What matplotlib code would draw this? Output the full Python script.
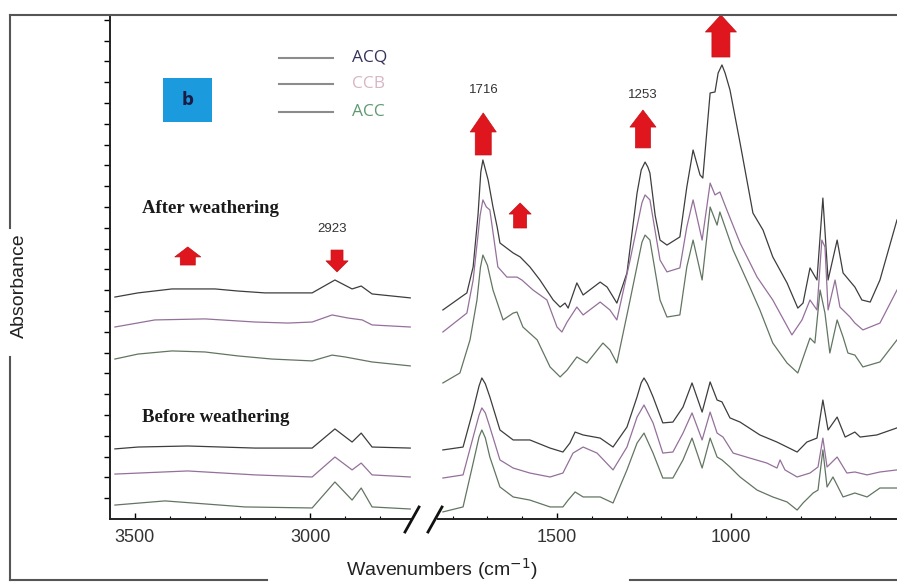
import matplotlib.pyplot as plt
from matplotlib.lines import Line2D
from matplotlib.patches import Rectangle, ArrowStyle

W, H = 897, 585

# ---- spectra: wavenumber (cm-1), absorbance (stacked, a.u.)
# 3600-2700 cm-1 region
hi_acq_after_x = [3557, 3491, 3394, 3271, 3206, 3129, 2994, 2929, 2880, 2854, 2823, 2714]
hi_acq_after_y = [10.67, 10.87, 11.06, 11.06, 10.96, 10.87, 10.87, 11.49, 11.06, 11.20, 10.82, 10.63]
hi_ccb_after_x = [3557, 3443, 3300, 3157, 3063, 2994, 2937, 2891, 2851, 2823, 2714]
hi_ccb_after_y = [9.23, 9.57, 9.62, 9.47, 9.42, 9.47, 9.81, 9.66, 9.57, 9.33, 9.23]
hi_acc_after_x = [3557, 3491, 3394, 3300, 3206, 3109, 2994, 2937, 2900, 2823, 2714]
hi_acc_after_y = [7.69, 7.93, 8.08, 8.03, 7.84, 7.69, 7.60, 7.88, 7.79, 7.55, 7.36]
hi_acq_before_x = [3557, 3491, 3349, 3157, 2994, 2929, 2880, 2854, 2823, 2714]
hi_acq_before_y = [3.37, 3.46, 3.51, 3.41, 3.41, 4.33, 3.70, 4.13, 3.46, 3.41]
hi_ccb_before_x = [3557, 3349, 3157, 2994, 2929, 2880, 2854, 2823, 2714]
hi_ccb_before_y = [2.16, 2.31, 2.12, 2.02, 2.98, 2.36, 2.69, 2.12, 2.02]
hi_acc_before_x = [3557, 3414, 3186, 2994, 2929, 2880, 2854, 2823, 2714]
hi_acc_before_y = [0.67, 0.87, 0.58, 0.53, 1.78, 0.91, 1.49, 0.58, 0.48]

# 1830-520 cm-1 region
lo_acq_after_x = [1828, 1759, 1741, 1727, 1719, 1713, 1698, 1684, 1672, 1664, 1626, 1606, 1578,
                  1549, 1511, 1491, 1477, 1468, 1443, 1425, 1376, 1356, 1328, 1299, 1270, 1258,
                  1247, 1239, 1233, 1218, 1204, 1184, 1147, 1127, 1109, 1089, 1081, 1060, 1046,
                  1037, 1026, 1017, 1003, 974, 937, 908, 880, 839, 808, 793, 773, 753, 736, 721,
                  695, 678, 644, 624, 600, 572, 523]
lo_acq_after_y = [10.05, 10.87, 12.12, 14.62, 16.68, 17.26, 16.30, 15.0, 14.04, 13.27, 12.79,
                  12.60, 12.12, 11.49, 10.53, 10.19, 10.38, 10.14, 11.35, 10.77, 11.39, 11.15,
                  10.38, 11.83, 15.67, 16.78, 17.16, 16.92, 16.63, 14.60, 13.41, 13.17, 13.56,
                  15.96, 17.74, 16.54, 16.39, 20.48, 20.53, 21.44, 21.83, 21.44, 20.63, 18.08,
                  14.71, 13.89, 12.60, 11.35, 10.14, 10.38, 12.07, 11.49, 15.43, 11.49, 13.41,
                  11.83, 11.15, 10.53, 10.43, 11.49, 14.38]
lo_ccb_after_x = [1828, 1759, 1741, 1727, 1721, 1713, 1703, 1693, 1670, 1644, 1615, 1601, 1569,
                  1529, 1500, 1486, 1471, 1443, 1425, 1376, 1348, 1328, 1290, 1256, 1247, 1233,
                  1204, 1184, 1147, 1127, 1109, 1083, 1060, 1046, 1032, 1012, 974, 925, 880, 825,
                  796, 773, 753, 739, 730, 721, 701, 687, 658, 644, 621, 572, 523]
lo_ccb_after_y = [8.99, 9.90, 11.49, 13.65, 14.60, 15.34, 15.00, 14.86, 12.12, 11.63, 11.63,
                  11.49, 11.01, 10.53, 9.23, 8.99, 9.47, 10.19, 9.81, 10.43, 10.05, 9.57, 12.45,
                  15.20, 15.58, 15.34, 12.45, 11.88, 12.07, 14.04, 15.34, 13.41, 16.15, 15.58,
                  15.72, 14.86, 13.27, 11.63, 10.53, 8.85, 9.57, 10.53, 10.05, 13.41, 13.08,
                  10.05, 11.49, 10.19, 9.71, 9.42, 9.09, 9.42, 11.01]
lo_acc_after_x = [1828, 1779, 1750, 1730, 1720, 1713, 1700, 1684, 1655, 1626, 1615, 1598, 1557,
                  1520, 1491, 1471, 1443, 1414, 1368, 1348, 1328, 1290, 1256, 1247, 1233, 1204,
                  1184, 1147, 1127, 1109, 1083, 1060, 1040, 1032, 994, 946, 917, 880, 839, 808,
                  773, 759, 744, 730, 716, 695, 678, 664, 644, 621, 572, 523]
lo_acc_after_y = [6.54, 7.02, 8.61, 10.53, 12.10, 12.69, 12.20, 11.01, 9.57, 9.90, 9.95, 9.23,
                  8.61, 7.31, 6.83, 7.16, 7.79, 7.50, 8.46, 8.13, 7.50, 10.53, 13.30, 13.65,
                  13.41, 10.53, 9.71, 9.81, 12.12, 13.41, 11.49, 15.0, 14.13, 14.76, 12.93,
                  11.15, 10.05, 8.46, 7.50, 7.02, 8.70, 8.46, 11.01, 9.90, 7.98, 9.57, 8.75,
                  7.98, 7.88, 7.31, 7.55, 8.61]
lo_acq_before_x = [1828, 1770, 1741, 1724, 1716, 1706, 1693, 1664, 1626, 1578, 1520, 1483, 1463,
                   1448, 1425, 1376, 1339, 1299, 1270, 1258, 1250, 1240, 1224, 1196, 1167, 1138,
                   1112, 1083, 1060, 1040, 1026, 1003, 974, 917, 868, 810, 782, 753, 736, 721,
                   695, 672, 644, 629, 581, 523]
lo_acq_before_y = [3.32, 3.46, 5.24, 6.40, 6.78, 6.50, 5.87, 4.28, 3.80, 3.80, 3.41, 3.22, 3.65,
                   4.18, 4.04, 3.89, 3.46, 4.42, 5.87, 6.55, 6.78, 6.50, 5.87, 4.62, 4.66, 5.38,
                   6.54, 5.14, 6.59, 5.72, 5.63, 4.86, 4.66, 4.04, 3.70, 3.22, 3.70, 3.89, 5.72,
                   4.28, 4.90, 3.94, 4.18, 3.94, 4.04, 4.38]
lo_ccb_before_x = [1828, 1770, 1741, 1724, 1716, 1706, 1693, 1664, 1626, 1578, 1520, 1483, 1454,
                   1425, 1385, 1339, 1299, 1270, 1250, 1224, 1196, 1167, 1138, 1112, 1083, 1060,
                   1040, 1023, 994, 946, 897, 868, 859, 845, 810, 773, 750, 736, 724, 695, 667,
                   644, 609, 572, 523]
lo_ccb_before_y = [1.97, 2.12, 3.94, 5.00, 5.34, 5.10, 4.42, 2.84, 2.45, 2.21, 2.02, 2.21, 3.17,
                   3.46, 3.17, 2.36, 3.46, 4.90, 5.48, 4.62, 3.17, 3.22, 4.13, 5.10, 3.80, 5.14,
                   4.13, 3.94, 3.17, 2.93, 2.69, 2.45, 2.84, 2.36, 2.02, 2.21, 2.50, 3.89, 2.50,
                   2.98, 2.21, 2.26, 2.12, 2.26, 2.36]
lo_acc_before_x = [1828, 1770, 1741, 1724, 1716, 1706, 1693, 1664, 1626, 1578, 1520, 1483, 1468,
                   1448, 1425, 1376, 1339, 1299, 1270, 1250, 1224, 1196, 1167, 1138, 1112, 1083,
                   1060, 1040, 1026, 1003, 974, 925, 880, 839, 810, 793, 764, 750, 736, 724, 707,
                   678, 644, 609, 572, 523]
lo_acc_before_y = [0.34, 0.58, 2.69, 3.95, 4.28, 3.90, 2.98, 1.54, 1.06, 0.91, 0.58, 0.58, 0.91,
                   1.30, 1.06, 1.06, 0.77, 2.36, 3.65, 4.13, 3.17, 1.97, 1.97, 2.84, 3.89, 2.45,
                   3.89, 2.98, 2.84, 2.50, 2.02, 1.39, 1.06, 0.82, 0.43, 0.77, 1.25, 1.39, 3.32,
                   1.54, 2.02, 1.06, 1.25, 1.06, 1.49, 1.49]

samples = ["ACQ", "CCB", "ACC"]
line_colors = {"ACQ": "#3d3d3d", "CCB": "#94709a", "ACC": "#627562"}
label_colors = {"ACQ": "#34345a", "CCB": "#d8b6c6", "ACC": "#5f9a70"}

# arrows: (wavenumber, tail, tip, head width px, tail width px, head length px)
arrows_hi = [(3349, 12.21, 13.08, 26, 15, 10), (2923, 12.93, 11.88, 22, 12, 11)]
arrows_lo = [(1712, 17.5, 19.52, 26, 16, 19), (1606, 13.99, 15.19, 22, 13, 11),
             (1253, 17.84, 19.66, 26, 15, 17), (1029, 22.21, 24.23, 31, 18, 17)]
peak_labels_hi = [("2923", 2937, 13.94)]
peak_labels_lo = [("1716", 1710, 20.63), ("1253", 1253, 20.38)]


def fx(x):
    return x / W


def fy(y):
    return 1 - y / H


fig = plt.figure(figsize=(W / 100, H / 100), dpi=100)

axL = fig.add_axes([fx(110), fy(519), 302 / W, 504 / H])
axR = fig.add_axes([fx(438), fy(519), 459 / W, 504 / H])

hi = {"ACQ": [(hi_acq_after_x, hi_acq_after_y), (hi_acq_before_x, hi_acq_before_y)],
      "CCB": [(hi_ccb_after_x, hi_ccb_after_y), (hi_ccb_before_x, hi_ccb_before_y)],
      "ACC": [(hi_acc_after_x, hi_acc_after_y), (hi_acc_before_x, hi_acc_before_y)]}
lo = {"ACQ": [(lo_acq_after_x, lo_acq_after_y), (lo_acq_before_x, lo_acq_before_y)],
      "CCB": [(lo_ccb_after_x, lo_ccb_after_y), (lo_ccb_before_x, lo_ccb_before_y)],
      "ACC": [(lo_acc_after_x, lo_acc_after_y), (lo_acc_before_x, lo_acc_before_y)]}

for s in samples:
    for x, y in hi[s]:
        axL.plot(x, y, color=line_colors[s], lw=0.9, solid_joinstyle="round")
    for x, y in lo[s]:
        axR.plot(x, y, color=line_colors[s], lw=0.9, solid_joinstyle="round")

axL.set_xlim(3571, 2709)
axR.set_xlim(1842, 523)
for ax in (axL, axR):
    ax.set_ylim(0, 24.23)
    ax.spines["top"].set_visible(False)
    ax.spines["right"].set_visible(False)
    ax.spines["bottom"].set_color("#222222")
    ax.spines["bottom"].set_linewidth(1.4)
    ax.tick_params(axis="x", which="major", direction="in", length=4, width=1,
                   labelsize=13, labelcolor="#333333", pad=7)
    ax.tick_params(axis="x", which="minor", direction="in", length=2, width=0.8)

axR.spines["left"].set_visible(False)
axR.set_yticks([])
axL.spines["left"].set_color("#222222")
axL.spines["left"].set_linewidth(1.4)
axL.set_yticks(range(1, 25))
axL.set_yticklabels([])
axL.tick_params(axis="y", direction="out", length=4, width=1)

axL.set_xticks([3500, 3000])
axL.set_xticks(range(2800, 3600, 100), minor=True)
axR.set_xticks([1500, 1000])
axR.set_xticks(range(600, 1900, 100), minor=True)
for ax in (axL, axR):
    for t in ax.get_xticklabels():
        t.set_family("Liberation Sans")


def block_arrow(ax, x, y0, y1, hw, tw, hl):
    k = 0.72  # px -> pt
    style = ArrowStyle.Simple(head_length=hl * k, head_width=hw * k, tail_width=tw * k)
    ax.annotate("", xy=(x, y1), xytext=(x, y0), annotation_clip=False,
                arrowprops=dict(arrowstyle=style, mutation_scale=1, fc="#e0161e",
                                ec="#c41018", lw=0.5, shrinkA=0, shrinkB=0))


for a in arrows_hi:
    block_arrow(axL, *a)
for a in arrows_lo:
    block_arrow(axR, *a)

for txt, x, y in peak_labels_hi:
    axL.text(x, y, txt, ha="center", va="center", fontsize=9.5, color="#333333",
             family="Liberation Sans")
for txt, x, y in peak_labels_lo:
    axR.text(x, y, txt, ha="center", va="center", fontsize=9.5, color="#333333",
             family="Liberation Sans")

axL.text(3480, 14.95, "After weathering", ha="left", va="center", fontsize=13.5,
         fontweight="bold", family="Liberation Serif", color="#1a1a1a")
axL.text(3480, 4.90, "Before weathering", ha="left", va="center", fontsize=13.5,
         fontweight="bold", family="Liberation Serif", color="#1a1a1a")

# panel tag
fig.add_artist(Rectangle((fx(163), fy(122)), 49 / W, 44 / H, transform=fig.transFigure,
                         fc="#1c9ade", ec="none"))
fig.text(fx(188), fy(100), "b", ha="center", va="center", fontsize=12, fontweight="bold",
         color="#1b1b44")

# legend (grey handles, coloured names)
for i, s in enumerate(samples):
    yy = [58, 84, 112][i]
    fig.add_artist(Line2D([fx(279), fx(333)], [fy(yy), fy(yy)], color="#8c8c8c", lw=1.5))
    fig.text(fx(352), fy(yy), s, ha="left", va="center", fontsize=12.5,
             family="Open Sans", color=label_colors[s])

# axis titles
fig.text(fx(19), fy(286), "Absorbance", rotation=90, ha="center", va="center",
         fontsize=14, family="Liberation Sans", color="#222222")
fig.text(fx(442), fy(569), r"Wavenumbers (cm$^{-1}$)", ha="center", va="center",
         fontsize=14, family="Liberation Sans", color="#222222")

# axis break marks
for x0 in (405, 428):
    fig.add_artist(Line2D([fx(x0), fx(x0 + 14)], [fy(532), fy(507)], color="#111111", lw=2))

# outer frame with gaps for the labels
frame = dict(color="#555555", lw=1.5)
fig.add_artist(Line2D([fx(10), fx(897)], [fy(15), fy(15)], **frame))
fig.add_artist(Line2D([fx(10), fx(10)], [fy(15), fy(228)], **frame))
fig.add_artist(Line2D([fx(10), fx(10)], [fy(357), fy(580)], **frame))
fig.add_artist(Line2D([fx(10), fx(267)], [fy(580), fy(580)], **frame))
fig.add_artist(Line2D([fx(630), fx(897)], [fy(580), fy(580)], **frame))

fig.savefig("out.png", dpi=100)
